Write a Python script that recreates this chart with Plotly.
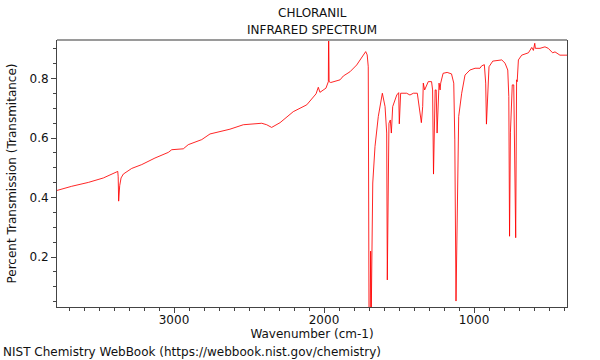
import plotly.graph_objects as go

title_lines = ["CHLORANIL", "INFRARED SPECTRUM"]
x_title = "Wavenumber (cm-1)"
y_title = "Percent Transmission (Transmitance)"
footer = "NIST Chemistry WebBook (https://webbook.nist.gov/chemistry)"

wavenumber = [
    3780, 3682, 3571, 3471, 3375, 3372, 3369, 3362, 3353, 3338, 3282, 3215, 3127,
    3038, 3015, 2938, 2905, 2815, 2760, 2627, 2538, 2415, 2382, 2349, 2293, 2205,
    2115, 2053, 2038, 2027, 1987, 1971, 1969, 1966, 1955, 1893, 1871, 1827, 1782,
    1735, 1722, 1712, 1705, 1700, 1692, 1689, 1685, 1675, 1660, 1638, 1611, 1593,
    1582, 1578, 1567, 1558, 1551, 1542, 1515, 1502, 1498, 1489, 1449, 1427, 1404,
    1378, 1364, 1351, 1342, 1338, 1329, 1305, 1283, 1276, 1270, 1259, 1252, 1246,
    1233, 1226, 1222, 1206, 1179, 1150, 1135, 1128, 1120, 1111, 1102, 1082, 1060,
    1027, 993, 960, 949, 931, 922, 917, 908, 900, 875, 838, 815, 793, 775, 768,
    763, 757, 745, 735, 729, 722, 716, 714, 712, 704, 682, 637, 615, 604, 595,
    591, 560, 527, 505, 476, 460, 427, 393, 380,
]
transmittance = [
    0.424, 0.438, 0.451, 0.466, 0.488, 0.470, 0.388, 0.440, 0.466, 0.479, 0.498, 0.511, 0.533,
    0.552, 0.561, 0.564, 0.578, 0.595, 0.614, 0.630, 0.645, 0.650, 0.645, 0.636, 0.652, 0.689,
    0.712, 0.749, 0.771, 0.754, 0.768, 0.790, 0.990, 0.790, 0.787, 0.796, 0.809, 0.823, 0.846,
    0.880, 0.891, 0.880, 0.840, 0.010, 0.010, 0.220, 0.010, 0.449, 0.572, 0.673, 0.751, 0.706,
    0.617, 0.123, 0.650, 0.661, 0.617, 0.706, 0.745, 0.753, 0.648, 0.751, 0.751, 0.745, 0.751,
    0.751, 0.706, 0.652, 0.706, 0.785, 0.762, 0.790, 0.790, 0.762, 0.479, 0.762, 0.762, 0.617,
    0.785, 0.762, 0.785, 0.818, 0.821, 0.816, 0.785, 0.594, 0.052, 0.371, 0.673, 0.751, 0.812,
    0.829, 0.835, 0.835, 0.843, 0.847, 0.785, 0.647, 0.785, 0.840, 0.859, 0.860, 0.863, 0.852, 0.829, 0.740,
    0.270, 0.620, 0.779, 0.779, 0.600, 0.265, 0.796, 0.810, 0.790, 0.863, 0.879, 0.887, 0.905, 0.895, 0.919,
    0.902, 0.902, 0.907, 0.902, 0.887, 0.890, 0.879, 0.879, 0.879,
]

x_tickvals = [3000, 2000, 1000]
y_tickvals = [0.2, 0.4, 0.6, 0.8]
x_minor_step = 100
y_minor_step = 0.05
x_range = [3780, 380]
y_range = [0.032, 0.93]

FONT = "DejaVu Sans"
AX = "#444444"

fig = go.Figure()
fig.add_trace(go.Scatter(
    x=wavenumber, y=transmittance, mode="lines",
    line=dict(color="rgba(255,0,0,0.85)", width=1),
    hoverinfo="skip", showlegend=False,
))

fig.update_layout(
    width=600, height=360,
    margin=dict(l=57, r=33, t=40, b=53, autoexpand=False),
    paper_bgcolor="white", plot_bgcolor="white",
    font=dict(family=FONT, size=12, color="#111111"),
    xaxis=dict(
        range=x_range, tickmode="linear", tick0=0, dtick=x_tickvals[0] - x_tickvals[1],
        showgrid=False, zeroline=False, showline=True, linecolor=AX, linewidth=1,
        ticks="outside", ticklen=5, tickcolor=AX, automargin=False,
        ticklabelstandoff=-3,
        minor=dict(tickmode="linear", tick0=0, dtick=x_minor_step, ticks="outside",
                   ticklen=3, tickcolor=AX, showgrid=False),
        title=dict(text=x_title, standoff=0, font=dict(size=12)),
        tickfont=dict(size=12),
    ),
    yaxis=dict(
        range=y_range, tickmode="linear", tick0=0, dtick=round(y_tickvals[1] - y_tickvals[0], 3),
        tickformat=".1f",
        showgrid=False, zeroline=False, showline=True, linecolor=AX, linewidth=1, mirror=True,
        ticks="outside", ticklen=5, tickcolor=AX, automargin=False,
        minor=dict(tickmode="linear", tick0=0, dtick=y_minor_step, ticks="outside",
                   ticklen=3, tickcolor=AX, showgrid=False),
        title=dict(text=y_title, standoff=10, font=dict(size=12)),
        tickfont=dict(size=12),
    ),
    shapes=[dict(type="line", xref="paper", yref="paper", x0=0, x1=1, y0=1, y1=1,
                 line=dict(color="#9a9a9a", width=2))],
    annotations=[
        dict(text=title_lines[0], xref="paper", yref="paper", x=0.5, y=1, yshift=27,
             xanchor="center", yanchor="middle", showarrow=False, font=dict(size=12)),
        dict(text=title_lines[1], xref="paper", yref="paper", x=0.5, y=1, yshift=10,
             xanchor="center", yanchor="middle", showarrow=False, font=dict(size=12)),
        dict(text=footer, xref="paper", yref="paper", x=0, xshift=-56, y=0, yshift=-45,
             xanchor="left", yanchor="middle", showarrow=False, font=dict(size=12)),
    ],
)

fig.write_html("out.html", config={"displayModeBar": False},
               post_script="document.body.style.margin='0';")
